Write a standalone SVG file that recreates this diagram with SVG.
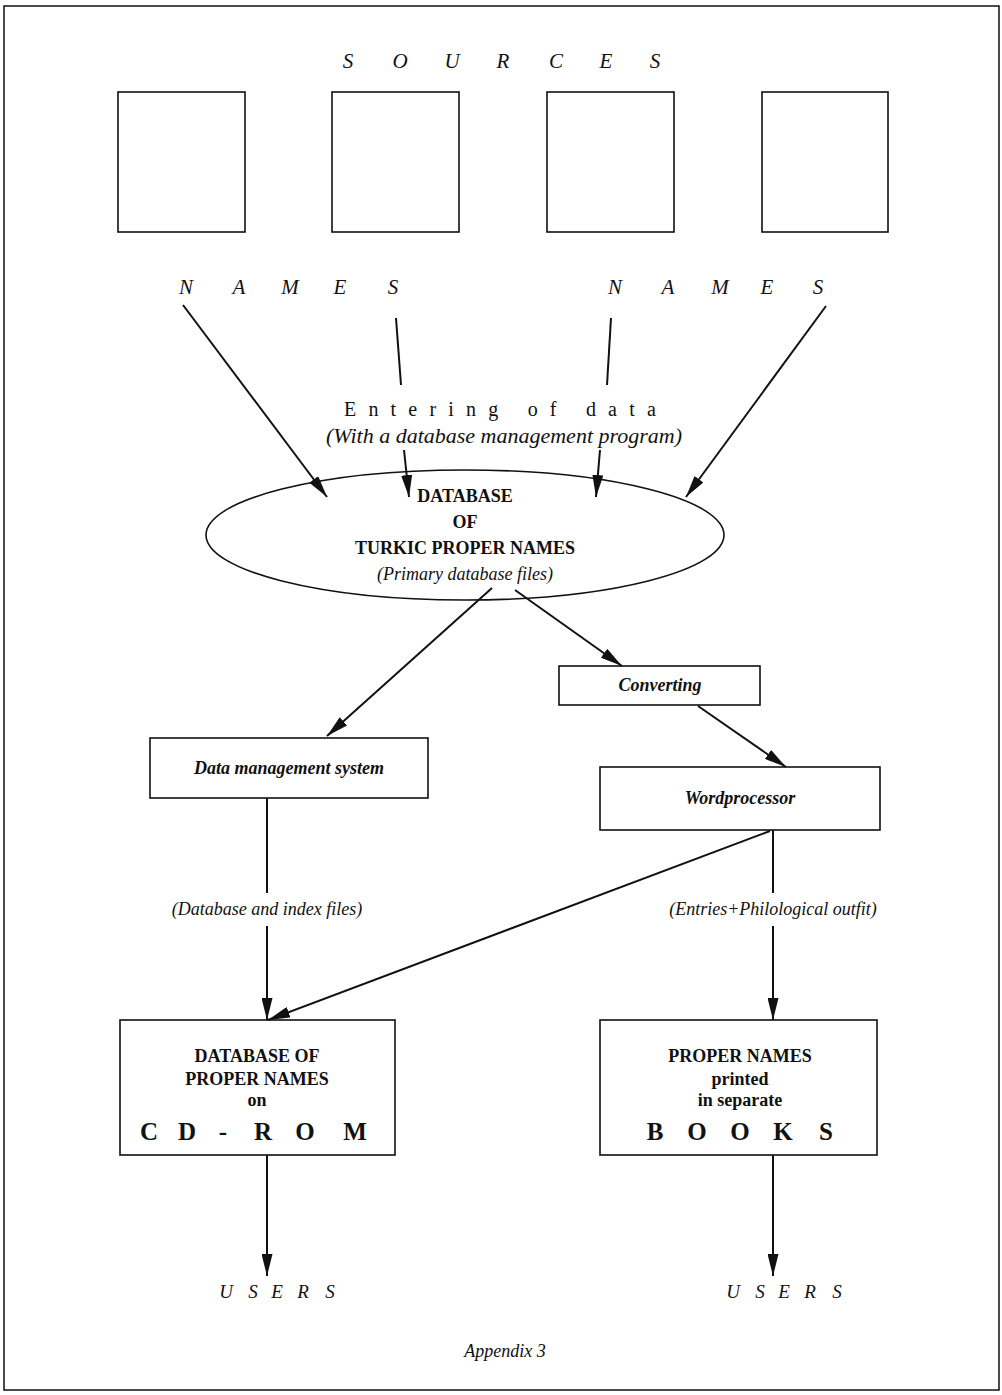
<svg xmlns="http://www.w3.org/2000/svg" width="1002" height="1395" viewBox="0 0 1002 1395">
<style>
text{font-family:"Liberation Serif","Times New Roman",serif;fill:#111}
.it{font-style:italic}
.b{font-weight:bold}
.sp{font-style:italic;font-size:21px}
.box{fill:#fff;stroke:#111;stroke-width:1.6}
.ln{stroke:#111;stroke-width:2;fill:none}
.lab{font-size:18px;text-anchor:middle}
</style>
<defs>
<marker id="ah" viewBox="0 0 22 11" refX="22" refY="5.5" markerWidth="22" markerHeight="11" markerUnits="userSpaceOnUse" orient="auto">
<path d="M0,0 L22,5.5 L0,11 Z" fill="#111"/>
</marker>
</defs>
<rect x="4" y="6" width="995" height="1384" fill="#fff" stroke="#111" stroke-width="1.5"/>

<g id="sources-title">
<text class="sp" text-anchor="middle" x="348 400 452 503 556 606 655" y="68">SOURCES</text>
</g>
<g id="source1"><rect class="box" x="118" y="92" width="127" height="140"/></g>
<g id="source2"><rect class="box" x="332" y="92" width="127" height="140"/></g>
<g id="source3"><rect class="box" x="547" y="92" width="127" height="140"/></g>
<g id="source4"><rect class="box" x="762" y="92" width="126" height="140"/></g>

<g id="names-left"><text class="sp" text-anchor="middle" x="186 239 290 340 393" y="294">NAMES</text></g>
<g id="names-right"><text class="sp" text-anchor="middle" x="615 668 720 767 818" y="294">NAMES</text></g>

<g id="entering-label">
<text x="506" y="416" text-anchor="middle" style="font-size:20px;letter-spacing:12.2px">Entering of data</text>
<text class="it" x="504" y="443" text-anchor="middle" style="font-size:22px">(With a database management program)</text>
</g>

<g id="database">
<ellipse cx="465" cy="535" rx="259" ry="65" fill="#fff" stroke="#111" stroke-width="1.6"/>
<text class="lab b" x="465" y="502">DATABASE</text>
<text class="lab b" x="465" y="528">OF</text>
<text class="lab b" x="465" y="554">TURKIC PROPER NAMES</text>
<text class="lab it" x="465" y="580">(Primary database files)</text>
</g>

<g id="converting">
<rect class="box" x="559" y="666" width="201" height="39"/>
<text class="lab b it" x="660" y="691">Converting</text>
</g>

<g id="data-management">
<rect class="box" x="150" y="738" width="278" height="60"/>
<text class="lab b it" x="289" y="774">Data management system</text>
</g>

<g id="wordprocessor">
<rect class="box" x="600" y="767" width="280" height="63"/>
<text class="lab b it" x="740" y="804">Wordprocessor</text>
</g>

<g id="cdrom">
<rect class="box" x="120" y="1020" width="275" height="135"/>
<text class="lab b" x="257" y="1062">DATABASE OF</text>
<text class="lab b" x="257" y="1085">PROPER NAMES</text>
<text class="lab b" x="257" y="1106">on</text>
<text class="b" style="font-size:25px" text-anchor="middle" x="149 187 223 263 305 355" y="1140">CD-ROM</text>
</g>

<g id="books">
<rect class="box" x="600" y="1020" width="277" height="135"/>
<text class="lab b" x="740" y="1062">PROPER NAMES</text>
<text class="lab b" x="740" y="1085">printed</text>
<text class="lab b" x="740" y="1106">in separate</text>
<text class="b" style="font-size:25px" text-anchor="middle" x="655 697 740 783 826" y="1140">BOOKS</text>
</g>

<g id="users-left"><text class="it" style="font-size:19px" text-anchor="middle" x="226 253 277 303 330" y="1298">USERS</text></g>
<g id="users-right"><text class="it" style="font-size:19px" text-anchor="middle" x="733 760 784 810 837" y="1298">USERS</text></g>

<g id="appendix"><text class="lab it" x="505" y="1357">Appendix 3</text></g>

<g id="connectors">
<line class="ln" x1="183" y1="305" x2="327" y2="497" marker-end="url(#ah)"/>
<line class="ln" x1="396" y1="318" x2="401" y2="385"/>
<line class="ln" x1="404" y1="450" x2="409" y2="497" marker-end="url(#ah)"/>
<line class="ln" x1="611" y1="318" x2="607" y2="385"/>
<line class="ln" x1="600" y1="450" x2="596" y2="497" marker-end="url(#ah)"/>
<line class="ln" x1="826" y1="306" x2="686" y2="497" marker-end="url(#ah)"/>
<line class="ln" x1="492" y1="588" x2="327" y2="736" marker-end="url(#ah)"/>
<line class="ln" x1="515" y1="590" x2="622" y2="666" marker-end="url(#ah)"/>
<line class="ln" x1="698" y1="706" x2="786" y2="767" marker-end="url(#ah)"/>
<line class="ln" x1="267" y1="798" x2="267" y2="893"/>
<line class="ln" x1="267" y1="926" x2="267" y2="1020" marker-end="url(#ah)"/>
<line class="ln" x1="773" y1="830" x2="773" y2="893"/>
<line class="ln" x1="773" y1="926" x2="773" y2="1020" marker-end="url(#ah)"/>
<line class="ln" x1="770" y1="831" x2="268" y2="1020" marker-end="url(#ah)"/>
<line class="ln" x1="267" y1="1155" x2="267" y2="1276" marker-end="url(#ah)"/>
<line class="ln" x1="773" y1="1155" x2="773" y2="1276" marker-end="url(#ah)"/>
<text class="lab it" x="267" y="915">(Database and index files)</text>
<text class="lab it" x="773" y="915">(Entries+Philological outfit)</text>
</g>
</svg>
